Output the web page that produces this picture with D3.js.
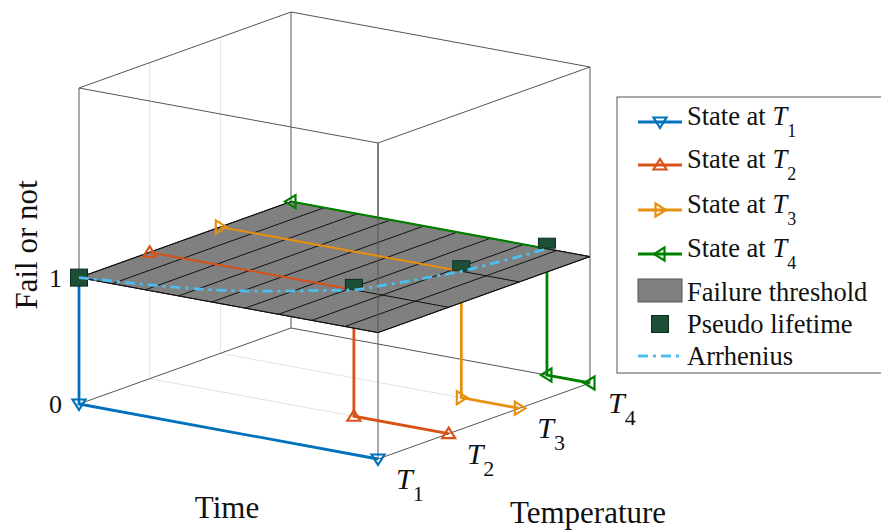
<!DOCTYPE html>
<html>
<head>
<meta charset="utf-8">
<script src="https://cdn.jsdelivr.net/npm/d3@7"></script>
<style>
  body { margin: 0; background: #fff; }
  svg { display: block; }
  text { font-family: "Liberation Serif", "Times New Roman", serif; fill: #111; }
</style>
</head>
<body>
<div id="chart"></div>
<script>
// Temperature levels, pseudo lifetime at each level (time as fraction of axis)
const temperatures = [1, 2, 3, 4];
const tempSubs = ["1", "2", "3", "4"];
const failTimes = [0, 0.683, 0.806, 0.856];
const seriesColors = ["#0072BD", "#D95319", "#E8900F", "#008000"];
const markerDirs = ["down", "up", "right", "left"];
const zTicks = [0, 1];

// Arrhenius curve
const arrTemp = [1.00, 1.15, 1.24, 1.34, 1.48, 1.64, 1.82, 2.00, 2.30, 2.62, 3.00, 3.40, 3.75, 4.00];
const arrTime = [0.000, 0.200, 0.300, 0.385, 0.465, 0.540, 0.610, 0.683, 0.725, 0.765, 0.806, 0.830, 0.846, 0.856];

// mesh of the failure-threshold surface
const surfTime = [0, 0.111, 0.222, 0.333, 0.444, 0.556, 0.667, 0.778, 0.889, 1];

const width = 881, height = 532;
const serif = "'Liberation Serif', 'Times New Roman', serif";

const svg = d3.select("#chart").append("svg")
  .attr("width", width).attr("height", height);

// simple fixed 3D view: each axis scale gives a fraction, mapped onto a screen vector
const tScale = d3.scaleLinear().domain([0, 1]).range([0, 1]);
const kScale = d3.scaleLinear().domain([1, 4]).range([0, 1]);
const zScale = d3.scaleLinear().domain([0, 2.5]).range([0, 1]);
const O = [79, 404], VT = [299, 55], VK = [212, -76], VZ = [0, -316];

function P(t, k, z) {
  const a = tScale(t), b = kScale(k), c = zScale(z);
  return [O[0] + a * VT[0] + b * VK[0] + c * VZ[0],
          O[1] + a * VT[1] + b * VK[1] + c * VZ[1]];
}
const line = d3.line();

function seg(g, pts, stroke, w) {
  return g.append("path").attr("d", line(pts)).attr("fill", "none")
    .attr("stroke", stroke).attr("stroke-width", w);
}

function tri(dir) {
  const s = 6.5, h = 6, b = 4.5;
  const pts = {
    up: [[0, -h], [s, b], [-s, b]],
    down: [[0, h], [s, -b], [-s, -b]],
    right: [[h, 0], [-b, s], [-b, -s]],
    left: [[-h, 0], [b, s], [b, -s]]
  }[dir];
  return "M" + pts.map(p => p.join(",")).join("L") + "Z";
}

function marker(g, p, dir, color) {
  g.append("path").attr("d", tri(dir))
    .attr("transform", `translate(${p[0]},${p[1]})`)
    .attr("fill", "none").attr("stroke", color).attr("stroke-width", 2.2)
    .attr("stroke-linejoin", "miter");
}

function txt(g, x, y, size) {
  return g.append("text").attr("x", x).attr("y", y)
    .attr("font-family", serif).attr("font-size", size);
}

// --- grid (back wall and floor)
const gGrid = svg.append("g");
temperatures.slice(1, 3).forEach(k => {
  seg(gGrid, [P(0, k, 0), P(0, k, 2.5)], "#e3e3e3", 1);
  seg(gGrid, [P(0, k, 0), P(1, k, 0)], "#e3e3e3", 1);
});

// --- box
const gBox = svg.append("g");
const tt = [0, 1], kk = [1, 4], zz = [0, 2.5];
const edges = [];
kk.forEach(k => zz.forEach(z => edges.push([P(0, k, z), P(1, k, z)])));
tt.forEach(t => zz.forEach(z => edges.push([P(t, 1, z), P(t, 4, z)])));
tt.forEach(t => kk.forEach(k => edges.push([P(t, k, 0), P(t, k, 2.5)])));
edges.forEach(e => seg(gBox, e, "#555", 1));

// --- series parts below the threshold plane (drops and floor)
const gLow = svg.append("g");
temperatures.forEach((k, i) => {
  const tf = failTimes[i], c = seriesColors[i];
  seg(gLow, [P(tf, k, 1), P(tf, k, 0), P(1, k, 0)], c, 2.8);
  marker(gLow, P(tf, k, 0), markerDirs[i], c);
  marker(gLow, P(1, k, 0), markerDirs[i], c);
});

// --- failure threshold plane
const gPlane = svg.append("g");
gPlane.append("path")
  .attr("d", line([P(0, 1, 1), P(1, 1, 1), P(1, 4, 1), P(0, 4, 1)]) + "Z")
  .attr("fill", "#808080").attr("stroke", "#111").attr("stroke-width", 1);
surfTime.forEach(t => seg(gPlane, [P(t, 1, 1), P(t, 4, 1)], "#111", 1));
temperatures.forEach(k => seg(gPlane, [P(0, k, 1), P(1, k, 1)], "#111", 1));

// front vertical box edge above the plane
seg(svg, [P(1, 1, 1), P(1, 1, 2.5)], "#555", 1);

// --- series parts on the plane
const gHigh = svg.append("g");
temperatures.forEach((k, i) => {
  const tf = failTimes[i], c = seriesColors[i];
  if (tf > 0) seg(gHigh, [P(0, k, 1), P(tf, k, 1)], c, 2);
  marker(gHigh, P(0, k, 1), markerDirs[i], c);
});

// --- pseudo lifetime squares
const gSq = svg.append("g");
temperatures.forEach((k, i) => {
  const p = P(failTimes[i], k, 1);
  const full = failTimes[i] === 0;
  gSq.append("rect")
    .attr("x", p[0] - 8.5).attr("y", p[1] - (full ? 8.5 : 10.5))
    .attr("width", 17).attr("height", full ? 17 : 10)
    .attr("fill", "#1d4f37").attr("stroke", "#0d2a1c").attr("stroke-width", 1);
});

// --- Arrhenius curve
svg.append("path")
  .attr("d", d3.line().curve(d3.curveCatmullRom)(arrTemp.map((k, i) => P(arrTime[i], k, 1))))
  .attr("fill", "none").attr("stroke", "#4DBEEE").attr("stroke-width", 2.8)
  .attr("stroke-dasharray", "10,5,3,5");

// --- tick labels
zTicks.forEach(z => {
  const p = P(0, 1, z);
  txt(svg, p[0] - 17, p[1] + 9, 26).attr("text-anchor", "end").text(z);
});
temperatures.forEach((k, i) => {
  const p = P(1, k, 0);
  const t = txt(svg, p[0] + 18, p[1] + 30, 30);
  t.append("tspan").attr("font-style", "italic").text("T");
  t.append("tspan").attr("font-size", 22).attr("dy", 12).text(tempSubs[i]);
});

// --- axis labels
txt(svg, 227, 518, 31).attr("text-anchor", "middle").text("Time");
txt(svg, 588, 523, 31).attr("text-anchor", "middle").text("Temperature");
txt(svg, 0, 0, 31).attr("transform", "translate(37,245) rotate(-90)")
  .attr("text-anchor", "middle").text("Fail or not");

// --- legend
const lg = svg.append("g").attr("transform", "translate(617,97)");
lg.append("rect").attr("width", 280).attr("height", 276)
  .attr("fill", "#fff").attr("stroke", "#555").attr("stroke-width", 1);
const rowBase = [28, 71, 116, 160, 204, 236, 268];
const fs = 26.5;
temperatures.forEach((k, i) => {
  const y = rowBase[i] - 3, c = seriesColors[i];
  seg(lg, [[21, y], [65, y]], c, 2.8);
  marker(lg, [43, y], markerDirs[i], c);
  const t = txt(lg, 70, rowBase[i], fs);
  t.append("tspan").text("State at ");
  t.append("tspan").attr("font-style", "italic").text("T");
  t.append("tspan").attr("font-size", 18).attr("dy", 12).text(tempSubs[i]);
});
lg.append("rect").attr("x", 21).attr("y", rowBase[4] - 22).attr("width", 44).attr("height", 23)
  .attr("fill", "#808080").attr("stroke", "#555").attr("stroke-width", 1);
txt(lg, 70, rowBase[4], fs).text("Failure threshold");
lg.append("rect").attr("x", 34.5).attr("y", rowBase[5] - 17.5).attr("width", 17).attr("height", 17)
  .attr("fill", "#1d4f37").attr("stroke", "#0d2a1c").attr("stroke-width", 1);
txt(lg, 70, rowBase[5], fs).text("Pseudo lifetime");
seg(lg, [[21, rowBase[6] - 9], [65, rowBase[6] - 9]], "#4DBEEE", 2.8)
  .attr("stroke-dasharray", "10,5,3,5");
txt(lg, 70, rowBase[6], fs).text("Arrhenius");
</script>
</body>
</html>
